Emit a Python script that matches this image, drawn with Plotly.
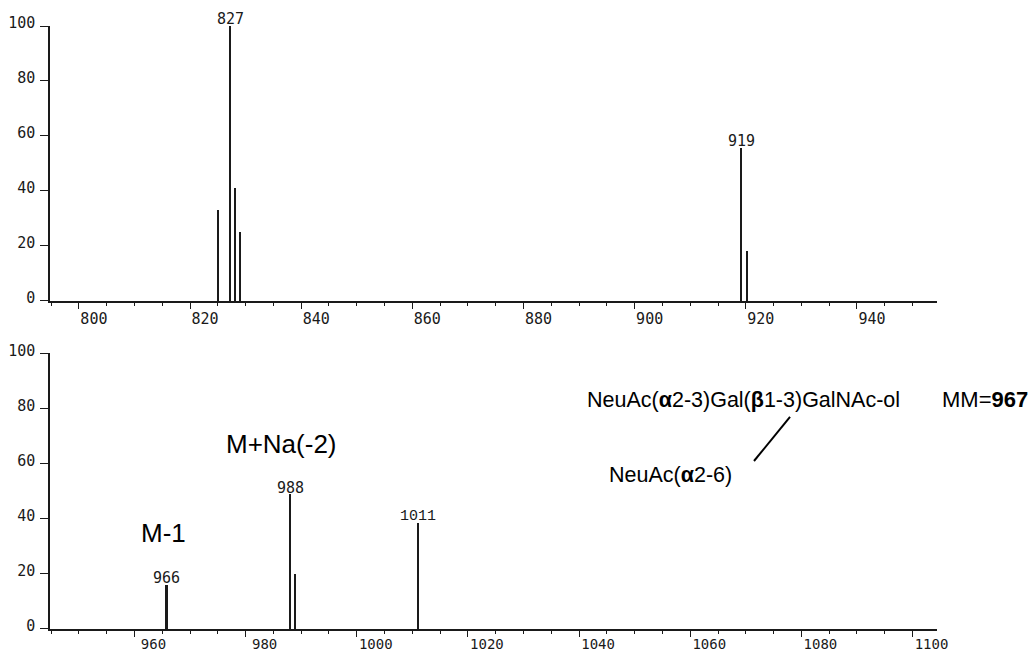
import plotly.graph_objects as go

# ---- data ----
top_mz = [825.1, 827.2, 828.1, 829.1, 919.2, 920.3]
top_int = [33, 100, 41, 25, 55.5, 18]
top_labels = ["", "827", "", "", "919", ""]

bot_mz = [965.8, 988.0, 988.9, 1011.1]
bot_int = [16, 48.7, 20, 38.4]
bot_labels = ["966", "988", "", "1011"]

top_xrange = [794.8, 954.4]
bot_xrange = [944.8, 1104.4]
y_ticks = [0, 20, 40, 60, 80, 100]
top_xticks = [800, 820, 840, 860, 880, 900, 920, 940]
bot_xticks = [960, 980, 1000, 1020, 1040, 1060, 1080, 1100]

INK = "#1a1a1a"
PLOT_FONT = "DejaVu Sans Mono"
TEXT_FONT = "Liberation Sans"
TICK_SIZE = 15

fig = go.Figure()
fig.add_trace(go.Bar(x=top_mz, y=top_int, width=0.3, marker=dict(color=INK, line=dict(width=0)),
                     xaxis="x", yaxis="y", showlegend=False))
fig.add_trace(go.Bar(x=bot_mz, y=bot_int, width=0.3, marker=dict(color=INK, line=dict(width=0)),
                     xaxis="x2", yaxis="y2", showlegend=False))

def xaxis_cfg(rng, ticks, anchor, shift, standoff, size):
    return dict(range=rng, anchor=anchor, tickvals=ticks, ticks="outside", ticklen=6,
                tickwidth=1.2, tickcolor=INK, showline=True, linecolor=INK, linewidth=1.5,
                showgrid=False, zeroline=False, automargin=False,
                ticklabelshift=shift, ticklabelstandoff=standoff,
                tickfont=dict(family=PLOT_FONT, size=size, color=INK),
                minor=dict(dtick=5, tick0=800, ticks="outside", ticklen=3, tickwidth=1, tickcolor=INK,
                           showgrid=False))

def yaxis_cfg(dom, anchor):
    return dict(range=[0, 100], domain=dom, anchor=anchor, tickvals=y_ticks, ticks="outside",
                ticklen=8, tickwidth=1.2, tickcolor=INK, showline=True, linecolor=INK, linewidth=1.5,
                showgrid=False, zeroline=False, automargin=False,
                ticklabelshift=-3, ticklabelstandoff=2,
                tickfont=dict(family=PLOT_FONT, size=TICK_SIZE, color=INK))

annotations = []
for mz, h, lab in zip(top_mz, top_int, top_labels):
    if lab:
        annotations.append(dict(x=mz, y=h, xref="x", yref="y", text=lab, showarrow=False,
                                yanchor="bottom", yshift=-4,
                                font=dict(family=PLOT_FONT, size=TICK_SIZE, color=INK)))
for mz, h, lab in zip(bot_mz, bot_int, bot_labels):
    if lab:
        fam = "Liberation Mono" if lab == "1011" else PLOT_FONT
        annotations.append(dict(x=mz, y=h, xref="x2", yref="y2", text=lab, showarrow=False,
                                yanchor="bottom", yshift=-4,
                                font=dict(family=fam, size=TICK_SIZE, color=INK)))

big = dict(family=TEXT_FONT, size=26, color="#000")
mid = dict(family=TEXT_FONT, size=21.5, color="#000")
annotations += [
    dict(xref="paper", yref="paper", x=0.1274, y=0.1592, text="M-1", showarrow=False,
         xanchor="center", yanchor="middle", font=big),
    dict(xref="paper", yref="paper", x=0.1962, y=0.3068, text="M+Na(-2)", showarrow=False,
         xanchor="left", yanchor="middle", font=big),
    dict(xref="paper", yref="paper", x=0.6032, y=0.3798,
         text="NeuAc(<b>α</b>2-3)Gal(<b>β</b>1-3)GalNAc-ol", showarrow=False,
         xanchor="left", yanchor="middle", font=mid),
    dict(xref="paper", yref="paper", x=0.6280, y=0.2554, text="NeuAc(<b>α</b>2-6)", showarrow=False,
         xanchor="left", yanchor="middle", font=mid),
    dict(xref="paper", yref="paper", x=1.0034, y=0.3798, text="MM=<b>967</b>", showarrow=False,
         xanchor="left", yanchor="middle", font=dict(family=TEXT_FONT, size=22, color="#000")),
]

shapes = [dict(type="line", xref="paper", yref="paper", x0=0.8343, y0=0.3516, x1=0.7937, y1=0.2786,
               line=dict(color="#000", width=2))]

# the page body adds an 8px margin, so the figure is sized/offset to compensate
fig.update_layout(
    width=1028, height=645,
    margin=dict(l=42, r=99, t=18, b=24),
    paper_bgcolor="white", plot_bgcolor="white",
    bargap=0,
    xaxis=xaxis_cfg(top_xrange, top_xticks, "y", 15, -3, TICK_SIZE),
    yaxis=yaxis_cfg([0.544, 1.0], "x"),
    xaxis2=xaxis_cfg(bot_xrange, bot_xticks, "y2", 19, -5, 14),
    yaxis2=yaxis_cfg([0.0, 0.4572], "x2"),
    annotations=annotations,
    shapes=shapes,
    showlegend=False,
)

fig.write_html("out.html")
